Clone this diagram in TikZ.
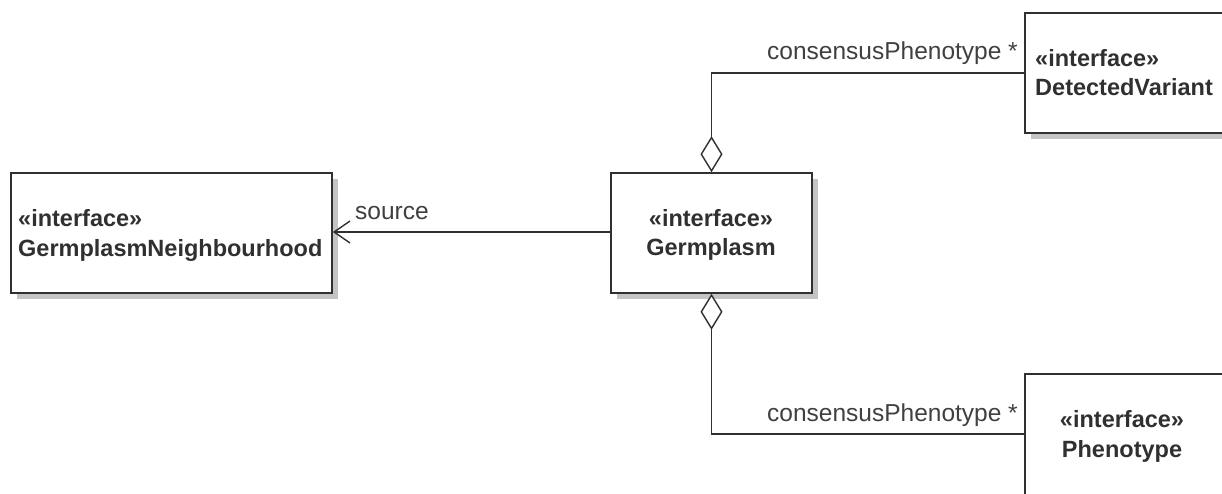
\documentclass[tikz,border=0pt]{standalone}
\usepackage{fontspec}
\setmainfont{Liberation Sans}
\usetikzlibrary{arrows.meta,shadows}
\definecolor{ink}{HTML}{303030}
\definecolor{lblink}{HTML}{404040}
\definecolor{shade}{HTML}{C4C4C4}
\begin{document}
\begin{tikzpicture}[x=1pt,y=-1pt,
  classbox/.style={draw=ink, line width=1.6pt, fill=white, inner sep=0pt,
    drop shadow={shadow xshift=6pt, shadow yshift=-6pt, fill=shade, opacity=1}},
  stereo/.style={font=\fontsize{23.5}{26}\selectfont\bfseries, text=ink, inner sep=0pt},
  lbl/.style={font=\fontsize{24.5}{28}\selectfont, text=lblink, inner sep=0pt},
  conn/.style={draw=ink, line width=1.6pt},
  navarrow/.style={conn, -{Straight Barb[length=16pt, width=22pt, line width=1.4pt]}},
  aggregation/.style={conn, {Diamond[open, length=36pt, width=22pt, line width=1.4pt, fill=white]}-}
]
\useasboundingbox (0,0) rectangle (1222,494);
\clip (0,0) rectangle (1222,494);

% class boxes
\node[classbox, minimum width=321pt, minimum height=120pt] (gn) at (171.5,233) {};
\node[classbox, minimum width=201pt, minimum height=120pt] (g) at (711.5,233) {};
\node[classbox, minimum width=230pt, minimum height=120pt] (dv) at (1140,73) {};
\node[classbox, minimum width=230pt, minimum height=150pt] (p) at (1140,449) {};

% class names
\node[stereo, anchor=base west] (gns) at (18,227) {«interface»};
\node[stereo, anchor=base west] (gnn) at (18,256) {GermplasmNeighbourhood};
\node[stereo, anchor=base] (gs) at (711,226) {«interface»};
\node[stereo, anchor=base] (gnm) at (711,255) {Germplasm};
\node[stereo, anchor=base west] (dvs) at (1035,67) {«interface»};
\node[stereo, anchor=base west] (dvn) at (1035,96) {DetectedVariant};
\node[stereo, anchor=base] (ps) at (1122,427) {«interface»};
\node[stereo, anchor=base] (pn) at (1122,457) {Phenotype};

% associations
\coordinate (pin) at (1025,434);
\draw[navarrow] (g.west |- 0,232) -- (gn.east |- 0,232);
\draw[aggregation] (g.north) |- (dv.west);
\draw[aggregation] (g.south) |- (pin);

% role labels
\node[lbl, anchor=base west] (src) at (355,220) {source};
\node[lbl, anchor=base east] (top) at (1018,60) {consensusPhenotype *};
\node[lbl, anchor=base east] (bot) at (1018,421) {consensusPhenotype *};
\end{tikzpicture}
\end{document}
